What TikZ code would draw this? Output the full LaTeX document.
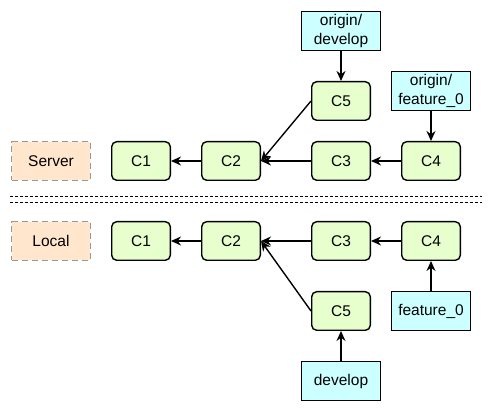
\documentclass[tikz,border=0pt]{standalone}
\usepackage{fontspec}
\setmainfont{Liberation Sans}
\usepackage{xcolor}
\usetikzlibrary{arrows.meta}

\definecolor{commitfill}{HTML}{E6FFCC}
\definecolor{reffill}{HTML}{CCFFFF}
\definecolor{sitefill}{HTML}{FFE6CC}

\begin{document}
\begin{tikzpicture}[x=10pt, y=10pt,
    commit/.style={draw, line width=1.4pt, rounded corners=5pt, fill=commitfill,
      minimum width=58.6pt, minimum height=38.6pt, inner sep=0pt},
    ref/.style={draw, line width=1.4pt, fill=reffill, align=center,
      minimum width=78.6pt, minimum height=38.6pt, inner sep=0pt},
    site/.style={draw=gray!80, dashed, dash pattern=on 6pt off 4pt, line width=1.4pt,
      fill=sitefill, minimum width=78.6pt, minimum height=38.6pt, inner sep=0pt},
    link/.style={line width=1.4pt, -{Stealth[length=10pt,width=9pt]}},
    font=\fontsize{15.5}{19}\selectfont]

    \useasboundingbox (0, 0) rectangle (49.2, 41.2);

    % server side
    \node[site] (srv) at (5.1, 25.1) {Server};
    \node[commit] (s1) at (14.1, 25.1) {C1};
    \node[commit] (s2) at (23.1, 25.1) {C2};
    \node[commit] (s3) at (34.1, 25.1) {C3};
    \node[commit] (s4) at (43.1, 25.1) {C4};
    \node[commit] (s5) at (34.1, 31.1) {C5};
    \node[ref] (odev) at (34.1, 38.1) {origin/\\develop};
    \node[ref] (ofeat) at (43.1, 32.1) {origin/\\feature\_0};

    % local side
    \node[site] (loc) at (5.1, 17.1) {Local};
    \node[commit] (l1) at (14.1, 17.1) {C1};
    \node[commit] (l2) at (23.1, 17.1) {C2};
    \node[commit] (l3) at (34.1, 17.1) {C3};
    \node[commit] (l4) at (43.1, 17.1) {C4};
    \node[commit] (l5) at (34.1, 10.1) {C5};
    \node[ref] (dev) at (34.1, 3.1) {develop};
    \node[ref] (feat) at (43.1, 10.1) {feature\_0};

    \draw [link] (s2) to (s1);
    \draw [link] (s3) to (s2);
    \draw [link] (s4) to (s3);
    \draw [link] (s5.west) to (s2.east);
    \draw [link] (odev) to (s5);
    \draw [link] (ofeat) to (s4);

    \draw [link] (l2) to (l1);
    \draw [link] (l3) to (l2);
    \draw [link] (l4) to (l3);
    \draw [link] (l5.west) to (l2.east);
    \draw [link] (dev) to (l5);
    \draw [link] (feat) to (l4);

    % separator
    \coordinate (sepa) at (1, 21.5);
    \coordinate (sepb) at (48.2, 21.5);
    \coordinate (sepc) at (1, 20.95);
    \coordinate (sepd) at (48.2, 20.95);
    \draw [line width=1pt, dash pattern=on 3pt off 2pt] (sepa) -- (sepb);
    \draw [line width=1pt, dash pattern=on 3pt off 2pt] (sepc) -- (sepd);

  \end{tikzpicture}
\end{document}
